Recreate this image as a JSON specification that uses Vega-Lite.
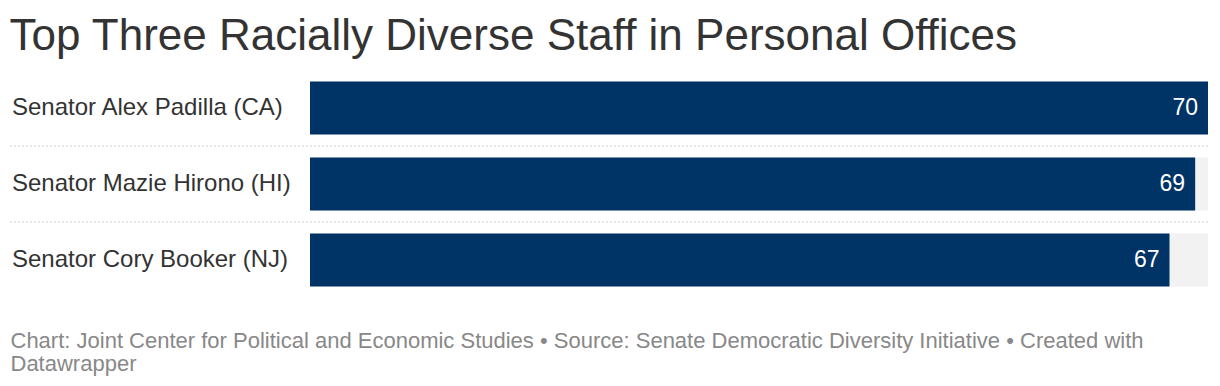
{
  "$schema": "https://vega.github.io/schema/vega-lite/v6.json",
  "width": 1198,
  "height": 228,
  "autosize": {"type": "none"},
  "padding": {"left": 10, "top": 70, "right": 12, "bottom": 88},
  "background": "#ffffff",
  "title": {
    "text": "Top Three Racially Diverse Staff in Personal Offices",
    "anchor": "start",
    "font": "Liberation Sans",
    "fontSize": 44,
    "fontWeight": "normal",
    "color": "#333333",
    "baseline": "alphabetic",
    "offset": 19,
    "dy": 43
  },
  "datasets": {
    "rows": [
      {"name": "Senator Alex Padilla (CA)", "value": 70},
      {"name": "Senator Mazie Hirono (HI)", "value": 69},
      {"name": "Senator Cory Booker (NJ)", "value": 67}
    ],
    "seps": [
      {"name": "Senator Mazie Hirono (HI)"},
      {"name": "Senator Cory Booker (NJ)"}
    ]
  },
  "data": {"name": "rows"},
  "layer": [
    {
      "mark": {"type": "bar", "color": "#f2f2f2", "cornerRadius": 0},
      "encoding": {
        "y": {"field": "name", "type": "nominal", "sort": null, "axis": null,
              "scale": {"paddingInner": 0.3026, "paddingOuter": 0.1513}},
        "x": {"datum": 0, "type": "quantitative",
              "scale": {"domain": [-23.385, 70], "zero": false, "nice": false},
              "axis": {
                "labels": false, "ticks": false, "domain": false, "grid": false,
                "title": ["Chart: Joint Center for Political and Economic Studies • Source: Senate Democratic Diversity Initiative • Created with", "Datawrapper"],
                "titleAnchor": "start", "titleAlign": "left", "titleX": 0, "titleY": 49,
                "titleBaseline": "alphabetic", "titleFont": "Liberation Sans", "titleFontSize": 22,
                "titleFontWeight": "normal", "titleColor": "#888888", "titleLineHeight": 23
              }},
        "x2": {"datum": 70}
      }
    },
    {
      "mark": {"type": "bar", "color": "#003366"},
      "encoding": {
        "y": {"field": "name", "type": "nominal", "sort": null},
        "x": {"field": "value", "type": "quantitative"},
        "x2": {"datum": 0}
      }
    },
    {
      "data": {"name": "seps"},
      "mark": {"type": "rule", "color": "#cccccc", "strokeDash": [2, 2], "strokeWidth": 1, "yOffset": -11.5},
      "encoding": {
        "y": {"field": "name", "type": "nominal", "sort": null, "bandPosition": 0},
        "x": {"datum": -23.385, "type": "quantitative"},
        "x2": {"datum": 70}
      }
    },
    {
      "mark": {"type": "text", "align": "left", "baseline": "middle", "dx": 2, "font": "Liberation Sans", "fontSize": 24, "color": "#333333"},
      "encoding": {
        "y": {"field": "name", "type": "nominal", "sort": null},
        "x": {"datum": -23.385, "type": "quantitative"},
        "text": {"field": "name"}
      }
    },
    {
      "mark": {"type": "text", "align": "right", "baseline": "middle", "dx": -10, "font": "Liberation Sans", "fontSize": 23, "color": "#ffffff"},
      "encoding": {
        "y": {"field": "name", "type": "nominal", "sort": null},
        "x": {"field": "value", "type": "quantitative"},
        "text": {"field": "value"}
      }
    }
  ],
  "config": {"view": {"stroke": null}}
}
